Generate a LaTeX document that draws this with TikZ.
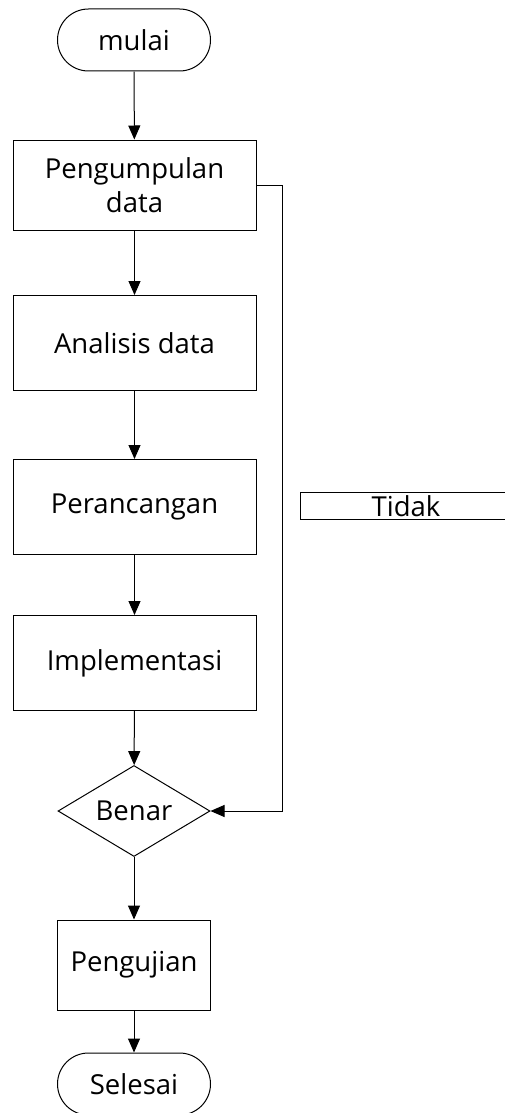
\documentclass[tikz,border=0pt]{standalone}
\usepackage{fontspec}
\setmainfont{Open Sans}
\usetikzlibrary{arrows.meta,shapes.geometric,shapes.misc}
\tikzset{
  base/.style={draw=black,line width=1pt,font=\fontsize{27.5}{34}\selectfont,inner sep=0pt,align=center},
  procbox/.style={base,rectangle},
  term/.style={base,rounded rectangle},
  decis/.style={base,diamond,aspect=1.67},
  conn/.style={line width=1pt,-{Triangle[length=14pt,width=12pt]}},
}
\begin{document}
\begin{tikzpicture}[x=1pt,y=-1pt]
\useasboundingbox (0,0) rectangle (505,1113);
\node[term,minimum width=153pt,minimum height=62pt] (mulai) at (134,40) {mulai};
\node[procbox,minimum width=243pt,minimum height=90pt] (p1) at (134.5,185) {Pengumpulan\\data};
\node[procbox,minimum width=243pt,minimum height=95pt] (p2) at (134.5,343) {Analisis data};
\node[procbox,minimum width=243pt,minimum height=95pt] (p3) at (134.5,507) {Perancangan};
\node[procbox,minimum width=243pt,minimum height=95pt] (p4) at (134.5,663) {Implementasi};
\node[decis,minimum width=152pt,minimum height=91pt] (benar) at (134,811) {Benar};
\node[procbox,minimum width=153pt,minimum height=90pt] (uji) at (134,965) {Pengujian};
\node[term,minimum width=153pt,minimum height=62pt] (selesai) at (134,1084) {Selesai};
\node[font=\fontsize{27.5}{34}\selectfont,inner sep=0pt,anchor=base] (tidak) at (406,516) {Tidak};
\draw[line width=1pt] (505,492) -- (300,492) -- (300,519) -- (505,519);
\coordinate (k1) at (282,185);
\draw[conn] (mulai) -- (p1);
\draw[conn] (p1) -- (p2);
\draw[conn] (p2) -- (p3);
\draw[conn] (p3) -- (p4);
\draw[conn] (p4) -- (benar);
\draw[conn] (benar) -- (uji);
\draw[conn] (uji) -- (selesai);
\draw[conn] (p1.east) -- (k1) |- (benar.east);
\end{tikzpicture}
\end{document}
